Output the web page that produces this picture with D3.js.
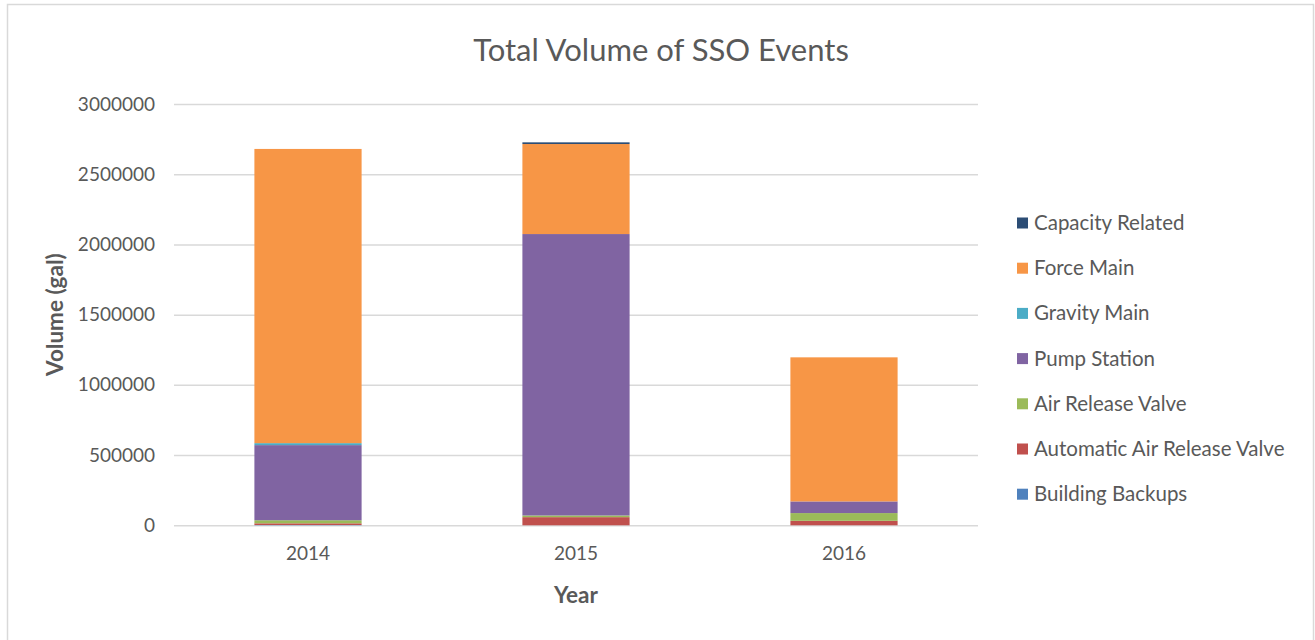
<!DOCTYPE html>
<html lang="en">
<head>
  <meta charset="UTF-8" />
  <script src="https://d3js.org/d3.v7.min.js"></script>
  <style>
    body { margin: 0; background: #fff; }
    text { font-family: Lato, "Open Sans", sans-serif; fill: #595959; }
    .gridlines line { stroke: #d9d9d9; stroke-width: 1.5px; }
    .gridlines .domain { stroke: none; }
  </style>
</head>
<body>
  <svg id="chart" width="1315" height="640"></svg>

  <script>
    // data
    const years = ["2014", "2015", "2016"];
    const causes = ["Building Backups", "Automatic Air Release Valve", "Air Release Valve",
      "Pump Station", "Gravity Main", "Force Main", "Capacity Related"];
    const buildingBackups = [2000, 0, 0];
    const autoAirValve = [12000, 58000, 32000];
    const airValve = [22000, 12000, 55000];
    const pumpStation = [535000, 2004000, 83000];
    const gravityMain = [14000, 0, 0];
    const forceMain = [2095000, 641000, 1026000];
    const capacityRelated = [0, 12000, 0];
    const yTicks = [0, 500000, 1000000, 1500000, 2000000, 2500000, 3000000];
    const colors = ["#4F81BD", "#C0504D", "#9BBB59", "#8064A2", "#4BACC6", "#F79646", "#2C4D75"];

    const seriesValues = [buildingBackups, autoAirValve, airValve, pumpStation,
      gravityMain, forceMain, capacityRelated];
    const rows = years.map((yr, i) => {
      let row = { year: yr };
      causes.forEach((c, j) => { row[c] = seriesValues[j][i]; });
      return row;
    });

    const svg = d3.select("#chart");
    const plotLeft = 174, plotRight = 978, plotTop = 104, plotBottom = 525.3;

    // chart frame
    svg.append("rect")
      .attr("x", 7.5).attr("y", 4.5)
      .attr("width", 1306).attr("height", 650)
      .attr("fill", "white")
      .attr("stroke", "#d9d9d9")
      .attr("stroke-width", 1.5);

    const xScale = d3.scaleBand().domain(years).range([plotLeft, plotRight])
      .paddingInner(0.6).paddingOuter(0.3);
    const yScale = d3.scaleLinear().domain([0, 3000000]).range([plotBottom, plotTop]);
    const colorScale = d3.scaleOrdinal().domain(causes).range(colors);

    // gridlines
    let grid = d3.axisLeft(yScale).tickValues(yTicks)
      .tickSize(-(plotRight - plotLeft)).tickFormat("");
    svg.append("g")
      .attr("class", "gridlines")
      .attr("transform", `translate(${plotLeft},0)`)
      .call(grid);

    // y tick labels
    let leftAxis = d3.axisLeft(yScale).tickValues(yTicks).tickSize(0).tickPadding(19)
      .tickFormat(d3.format("d"));
    let yAxisG = svg.append("g")
      .attr("transform", `translate(${plotLeft},0)`)
      .call(leftAxis);
    yAxisG.select(".domain").remove();
    yAxisG.selectAll("text").attr("font-size", "19px").style("font-family", "Lato").attr("fill", "#595959");

    // stacked bars
    const stack = d3.stack().keys(causes);
    const layers = stack(rows);
    svg.append("g").selectAll("g")
      .data(layers)
      .join("g")
      .attr("fill", d => colorScale(d.key))
      .selectAll("rect")
      .data(d => d)
      .join("rect")
      .attr("x", d => xScale(d.data.year))
      .attr("width", xScale.bandwidth())
      .attr("y", d => yScale(d[1]))
      .attr("height", d => yScale(d[0]) - yScale(d[1]));

    // x tick labels
    let bottomAxis = d3.axisBottom(xScale).tickSize(0).tickPadding(21);
    let xAxisG = svg.append("g")
      .attr("transform", `translate(0,${plotBottom})`)
      .call(bottomAxis);
    xAxisG.select(".domain").remove();
    xAxisG.selectAll("text").attr("font-size", "19px").style("font-family", "Lato").attr("fill", "#595959");

    // title and axis titles
    svg.append("text")
      .attr("x", 661).attr("y", 61)
      .attr("text-anchor", "middle")
      .attr("font-size", "31px")
      .text("Total Volume of SSO Events");

    svg.append("text")
      .attr("transform", `translate(63,${(plotTop + plotBottom) / 2}) rotate(-90)`)
      .attr("text-anchor", "middle")
      .attr("font-size", "22.5px")
      .style("font-weight", "bold")
      .text("Volume (gal)");

    svg.append("text")
      .attr("x", (plotLeft + plotRight) / 2).attr("y", 603)
      .attr("text-anchor", "middle")
      .attr("font-size", "22.5px")
      .style("font-weight", "bold")
      .text("Year");

    // legend, top to bottom in reverse stack order
    const legendItems = causes.slice().reverse();
    const legend = svg.append("g");
    legendItems.forEach((c, i) => {
      const cy = 223 + i * 45.2;
      legend.append("rect")
        .attr("x", 1017).attr("y", cy - 5.5)
        .attr("width", 11).attr("height", 11)
        .attr("fill", colorScale(c));
      legend.append("text")
        .attr("x", 1034).attr("y", cy + 7)
        .attr("font-size", "20.5px")
        .text(c);
    });
  </script>
</body>
</html>
